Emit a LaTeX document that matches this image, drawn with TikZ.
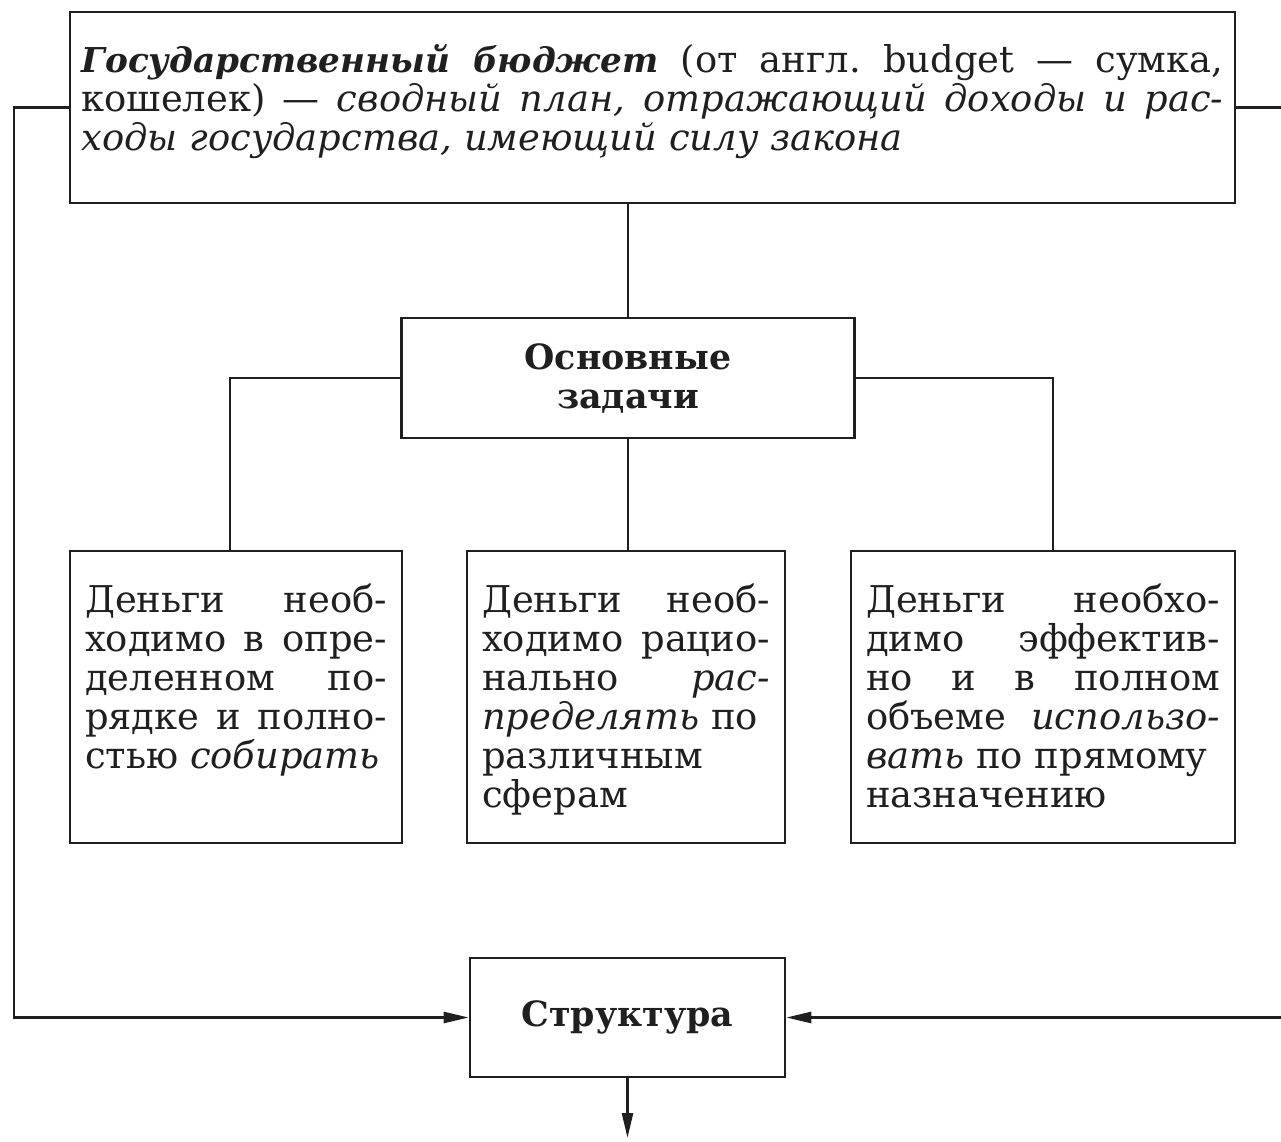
\documentclass[tikz,border=0pt]{standalone}
\usepackage{fontspec}
\setmainfont{DejaVu Serif}
\usetikzlibrary{arrows.meta}

% text block pinned to the top of a box of fixed height
\newcommand{\boxtext}[3]{\parbox[c][#2][t]{#1}{\hyphenpenalty=10000 #3}}

\begin{document}
\begin{tikzpicture}[line width=1.5pt,color=black!88,
    box/.style={draw, inner xsep=0.3cm, inner ysep=0.65cm, font=\fontsize{21}{22.2}\selectfont},
    head/.style={draw, align=center, font=\fontsize{19.8}{22.2}\selectfont\bfseries},
    arr/.style={-{Triangle[length=0.5cm,width=0.22cm]}}]
  \useasboundingbox (0,0) rectangle (25.62,-22.84);

  \node[box, inner xsep=0.23cm] (budget) at (13.05,-2.15) {\boxtext{22.84cm}{2.52cm}{%
    {\fontsize{19.5}{22.2}\selectfont\bfseries\itshape Государственный бюджет} (от англ.\ budget — сумка,\linebreak
    кошелек) — \textit{сводный план, отражающий доходы и рас-\linebreak
    ходы государства, имеющий силу закона}}};
  \node[head, minimum width=9.06cm, minimum height=2.4cm] (tasks) at (12.56,-7.56) {Основные\\задачи};

  \node[box] (collect) at (4.72,-13.94) {\boxtext{6.04cm}{4.54cm}{%
    Деньги необ-\linebreak ходимо в опре-\linebreak деленном по-\linebreak
    рядке и полно-\linebreak стью \textit{собирать}}};
  \node[box] (share) at (12.52,-13.94) {\boxtext{5.76cm}{4.54cm}{%
    Деньги необ-\linebreak ходимо рацио-\linebreak нально \textit{рас-\linebreak
    пределять} по\\ различным\\ сферам}};
  \node[box] (use) at (20.86,-13.94) {\boxtext{7.08cm}{4.54cm}{%
    Деньги необхо-\linebreak димо эффектив-\linebreak но и в полном\linebreak
    объеме \textit{использо-\linebreak вать} по прямому\\ назначению}};

  \node[head, minimum width=6.3cm, minimum height=2.38cm] (struct) at (12.55,-20.35) {Структура};

  \coordinate (left) at (0.28,-2.15);
  \coordinate (right1) at (25.62,-2.15);
  \coordinate (right2) at (25.62,-20.35);
  \coordinate (down) at (12.55,-22.76);

  \draw (budget.south -| tasks.north) -- (tasks.north);
  \draw (tasks.west) -| ([xshift=-0.12cm]collect.north);
  \draw (tasks.south) -- (tasks.south |- share.north);
  \draw (tasks.east) -| ([xshift=0.2cm]use.north);
  \draw[arr] (budget.west) -- (left) |- (struct.west);
  \draw (budget.east) -- (right1);
  \draw[arr] (right2) -- (struct.east);
  \draw[arr] (struct.south) -- (down);
\end{tikzpicture}
\end{document}
